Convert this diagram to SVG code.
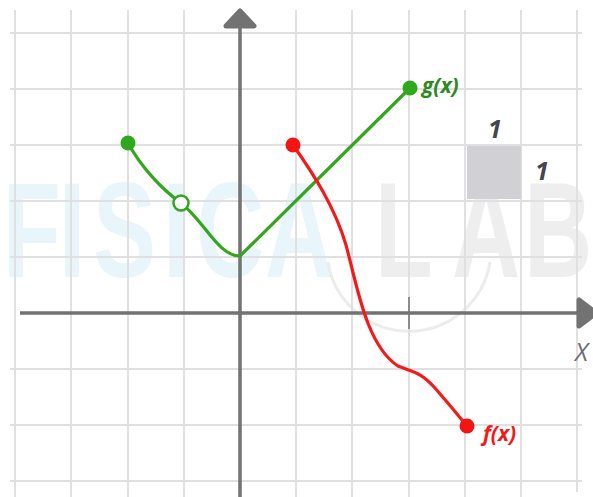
<svg xmlns="http://www.w3.org/2000/svg" width="593" height="497" viewBox="0 0 593 497">
  <style>
    .grid line { stroke: #e0e0e2; stroke-width: 2; }
    .axis { stroke: #727272; stroke-width: 3.5; fill: none; }
    .head { fill: #727272; stroke: #727272; stroke-width: 5; stroke-linejoin: round; }
    .gcurve { stroke: #33a51f; stroke-width: 3.2; fill: none; stroke-linecap: round; stroke-linejoin: round; }
    .fcurve { stroke: #f21a1a; stroke-width: 3.2; fill: none; stroke-linecap: round; }
    .lbl { font-family: "Open Sans", "Liberation Sans", sans-serif; font-style: italic; font-weight: bold; font-size: 21px; }
    .one { font-family: "Open Sans", "Liberation Sans", sans-serif; font-style: italic; font-weight: bold; font-size: 25px; fill: #45454f; }
    .wm { font-family: "Liberation Sans", sans-serif; font-weight: bold; font-size: 135px; }
    .wc { fill: #e8f5fa; }
    .wg { fill: #eeeeee; }
  </style>
  <rect width="593" height="497" fill="#ffffff"/>

  <g id="watermark">
    <text class="wm wc" transform="translate(3,277) scale(0.7,1)">F</text>
    <text class="wm wc" transform="translate(59,277) scale(0.7,1)">I</text>
    <text class="wm wc" transform="translate(93,277) scale(0.7,1)">S</text>
    <text class="wm wc" transform="translate(163,277) scale(0.7,1)">I</text>
    <text class="wm wc" transform="translate(196,277) scale(0.7,1)">C</text>
    <text class="wm wc" transform="translate(265,277) scale(0.7,1)">A</text>
    <text class="wm wg" transform="translate(375,277) scale(0.7,1)">L</text>
    <text class="wm wg" transform="translate(452,277) scale(0.7,1)">A</text>
    <text class="wm wg" transform="translate(524,277) scale(0.7,1)">B</text>
    <path d="M328,262 A82,82 0 0 0 490,262" fill="none" stroke="#ececec" stroke-width="3"/>
  </g>

  <g id="grid" class="grid">
    <line x1="15" y1="10" x2="15" y2="497"/>
    <line x1="71" y1="10" x2="71" y2="497"/>
    <line x1="128" y1="10" x2="128" y2="497"/>
    <line x1="184" y1="10" x2="184" y2="497"/>
    <line x1="296" y1="10" x2="296" y2="497"/>
    <line x1="352" y1="10" x2="352" y2="497"/>
    <line x1="409" y1="10" x2="409" y2="497"/>
    <line x1="465" y1="10" x2="465" y2="497"/>
    <line x1="521" y1="10" x2="521" y2="497"/>
    <line x1="577" y1="10" x2="577" y2="492"/>
    <line x1="10" y1="33" x2="582" y2="33"/>
    <line x1="10" y1="89" x2="582" y2="89"/>
    <line x1="10" y1="145" x2="582" y2="145"/>
    <line x1="10" y1="201" x2="582" y2="201"/>
    <line x1="10" y1="257" x2="582" y2="257"/>
    <line x1="10" y1="369" x2="582" y2="369"/>
    <line x1="10" y1="425" x2="582" y2="425"/>
    <line x1="10" y1="481" x2="582" y2="481"/>
  </g>

  <g id="unit-square">
    <rect x="467" y="146" width="54" height="53" fill="#d0d0d5"/>
    <text class="one" x="495" y="138" text-anchor="middle">1</text>
    <text class="one" x="542" y="180" text-anchor="middle">1</text>
  </g>

  <g id="axes">
    <line class="axis" x1="240" y1="26" x2="240" y2="497"/>
    <polygon class="head" points="240,11 254,26 226,26"/>
    <line class="axis" x1="20" y1="313" x2="580" y2="313"/>
    <polygon class="head" points="579,300 579,326 596,313"/>
    <line x1="409" y1="297" x2="409" y2="329" stroke="#777777" stroke-width="1.6"/>
    <text x="575" y="361" font-family="Open Sans, Liberation Sans, sans-serif" font-style="italic" font-size="25" fill="#6e6e78">X</text>
  </g>

  <g id="g-curve">
    <path class="gcurve" d="M128,143 C140,165 160,188 181,203 C205,222 218,256 240,256 L410,88"/>
    <circle cx="128" cy="143" r="7.5" fill="#2ea81c"/>
    <circle cx="410" cy="88" r="7.5" fill="#2ea81c"/>
    <circle cx="181" cy="203" r="7.5" fill="#ffffff" stroke="#33a51f" stroke-width="2.5"/>
    <text class="lbl" x="422" y="93" fill="#2d8a1e">g(x)</text>
  </g>

  <g id="f-curve">
    <path class="fcurve" d="M293,145 C315,176 335,208 346,245 C357,285 366,345 398,366 C412,372 420,371 435,388 C448,403 458,415 467,426"/>
    <circle cx="293" cy="145" r="7.5" fill="#f41414"/>
    <circle cx="467" cy="426" r="7.5" fill="#f41414"/>
    <text class="lbl" x="483" y="441" fill="#f01a1a">f(x)</text>
  </g>
</svg>
